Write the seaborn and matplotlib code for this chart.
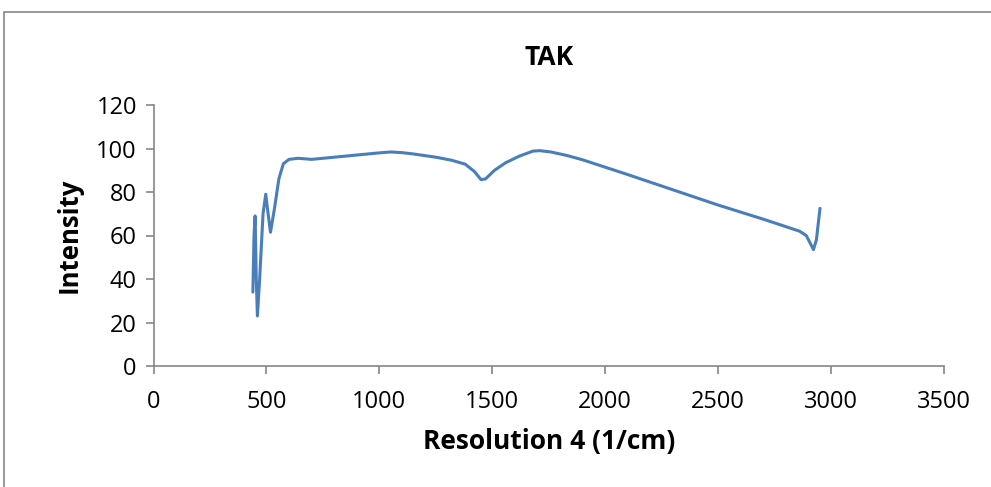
import numpy as np
import pandas as pd
import matplotlib
matplotlib.use("Agg")
import matplotlib.pyplot as plt
from matplotlib.patches import Rectangle
import seaborn as sns

# --- DATA ---
wavenumber = [440, 445, 450, 455, 460, 470, 485, 497, 505, 518, 535, 555, 575,
              600, 640, 700, 800, 900, 1000, 1050, 1100, 1150, 1250, 1320,
              1380, 1420, 1450, 1470, 1510, 1560, 1620, 1680, 1710, 1760,
              1830, 1900, 2100, 2300, 2500, 2700, 2860, 2890, 2910, 2922,
              2935, 2951]
intensity = [34, 60, 69, 40, 23, 40, 70, 79, 72, 61.5, 72, 86, 93,
             95, 95.5, 95, 96, 97, 98, 98.4, 98.1, 97.5, 96, 94.6,
             92.8, 89.5, 85.7, 86, 90, 93.5, 96.5, 98.8, 99, 98.4,
             96.8, 94.8, 88, 81, 74, 67.5, 62, 60, 56, 53.5,
             58, 72.5]

df = pd.DataFrame({'Resolution': wavenumber, 'Intensity': intensity})

sns.set_style('white')
plt.rcParams['font.family'] = ['Open Sans', 'DejaVu Sans']
plt.rcParams['text.color'] = 'black'
plt.rcParams['axes.labelcolor'] = 'black'

fig = plt.figure(figsize=(9.91, 4.87), dpi=100)
ax = fig.add_axes([153.5 / 991, 1 - 366 / 487, (944 - 153.5) / 991, (366 - 105) / 487])

sns.lineplot(data=df, x='Resolution', y='Intensity', ax=ax, sort=False,
             estimator=None, color='#4A7EBB', linewidth=2.2)

ax.set_xlim(0, 3500)
ax.set_ylim(0, 120)
ax.set_xticks(np.arange(0, 3501, 500))
ax.set_yticks(np.arange(0, 121, 20))
ax.set_xlabel('Resolution 4 (1/cm)', fontsize=19, fontweight='bold', labelpad=10)
ax.set_ylabel('Intensity', fontsize=18.5, fontweight='bold', labelpad=10)
ax.set_title('TAK', fontsize=19, fontweight='bold', pad=29, color='black')

for side in ['top', 'right']:
    ax.spines[side].set_visible(False)
for side in ['left', 'bottom']:
    ax.spines[side].set_color('#868686')
    ax.spines[side].set_linewidth(1.2)
ax.tick_params(axis='both', direction='out', length=6, width=1.2, color='#868686',
               labelsize=17, labelcolor='black', left=True, bottom=True)
ax.tick_params(axis='x', pad=11)
ax.tick_params(axis='y', pad=6)

# Outer chart border (Excel-style)
fig.patches.append(Rectangle((4 / 991, -0.1), 1.1, 1 - 12 / 487 + 0.1,
                             transform=fig.transFigure, fill=False,
                             edgecolor='#868686', linewidth=1.2))

plt.savefig('out.png', dpi=100)
